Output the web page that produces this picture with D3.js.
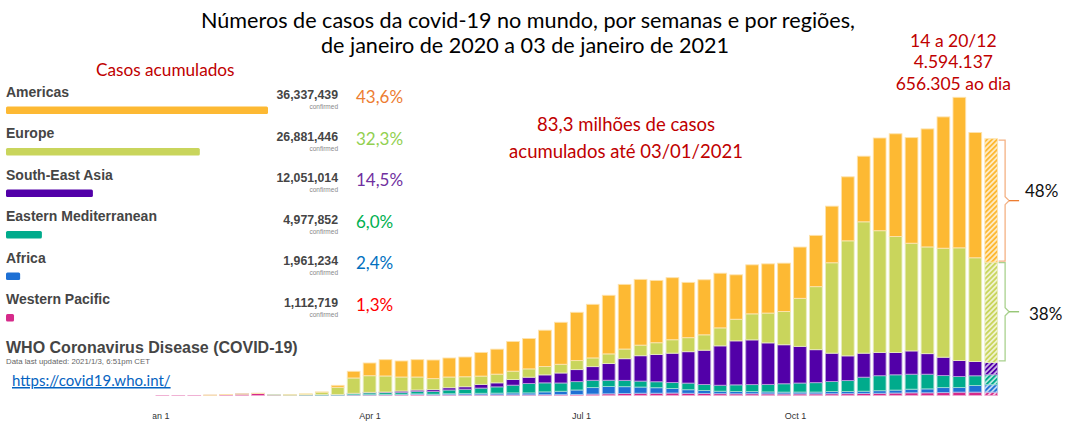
<!DOCTYPE html>
<html><head><meta charset="utf-8">
<script src="https://cdn.jsdelivr.net/npm/d3@7/dist/d3.min.js"></script>
<style>
body{margin:0;background:#fff;}
svg{display:block;}
</style></head>
<body><svg id="c" width="1065" height="430"></svg>
<script>
// ---------- DATA ----------
const weeks = ["2019-12-30","2020-01-06","2020-01-13","2020-01-20","2020-01-27","2020-02-03","2020-02-10","2020-02-17","2020-02-24",
"2020-03-02","2020-03-09","2020-03-16","2020-03-23","2020-03-30","2020-04-06","2020-04-13","2020-04-20","2020-04-27",
"2020-05-04","2020-05-11","2020-05-18","2020-05-25","2020-06-01","2020-06-08","2020-06-15","2020-06-22","2020-06-29",
"2020-07-06","2020-07-13","2020-07-20","2020-07-27","2020-08-03","2020-08-10","2020-08-17","2020-08-24","2020-08-31",
"2020-09-07","2020-09-14","2020-09-21","2020-09-28","2020-10-05","2020-10-12","2020-10-19","2020-10-26","2020-11-02",
"2020-11-09","2020-11-16","2020-11-23","2020-11-30","2020-12-07","2020-12-14","2020-12-21","2020-12-28"];
// weekly new cases, thousands
const westernPacific = [0.1,0.2,1,5,14,23,33,9,6,4,5,6,8,8,9,11,15,8,10,9,10,10,10,10,12,13,15,22,26,30,35,35,38,34,32,28,26,27,25,24,25,25,27,28,30,34,38,42,42,45,52,52,52];
const africa = [0,0,0,0,0,0,0,0,0,0.1,0.2,1,3,5,6,8,10,12,17,20,24,26,30,30,44,52,70,100,112,106,95,85,70,55,45,38,35,33,30,28,28,28,35,33,36,40,45,55,60,77,72,103,114];
const easternMediterranean = [0,0,0,0,0,0,0,0.1,1.5,6,8,9,20,28,29,30,40,42,58,68,80,97,119,145,139,128,129,112,97,97,92,92,92,102,92,92,103,108,116,129,139,145,154,169,216,231,236,231,226,185,169,149,154];
const southEastAsia = [0,0,0,0,0,0.1,0,0,0,0.1,0.1,0.5,3,8,10,20,20,28,35,38,57,62,88,97,123,154,185,211,257,334,391,421,452,484,529,607,678,689,640,601,565,508,436,381,370,359,344,359,317,283,246,220,190];
const europe = [0,0,0,0.1,0.1,0.1,0.1,0.2,1.5,13,38,110,236,256,247,216,200,170,165,154,128,134,128,128,129,134,139,134,149,149,163,180,207,216,237,277,333,401,459,513,740,971,1393,1772,2024,1875,1787,1659,1644,1679,1736,1598,1545];
const americas = [0,0,0,0.1,0.1,0.1,0.1,0,0.1,0.5,3,30,103,196,251,247,267,287,293,304,365,385,458,468,559,647,744,826,903,996,1013,960,956,852,848,842,684,755,758,744,790,790,872,986,1011,1428,1582,1627,1818,2023,2319,1930,1901];

const regions = ["Americas","Europe","South-East Asia","Eastern Mediterranean","Africa","Western Pacific"];
const cumulative = [36337439,26881446,12051014,4977852,1961234,1112719];
const shares = ["43,6%","32,3%","14,5%","6,0%","2,4%","1,3%"];
const tickDates = ["2020-01-01","2020-04-01","2020-07-01","2020-10-01"];
const peakLines = ["14 a 20/12","4.594.137","656.305 ao dia"];
const totalLines = ["83,3 milhões de casos","acumulados até 03/01/2021"];
const lastWeekShares = ["48%","38%"];

// ---------- STYLES ----------
const keys = ["wp","af","em","sea","eu","am"];
const colors = {am:"#FDB933",eu:"#C9D55C",sea:"#5200A8",em:"#00AB8C",af:"#1E70D4",wp:"#D62A8A"};
const regionKeys = ["am","eu","sea","em","af","wp"];
const pctColors = ["#ED7D31","#92D050","#7030A0","#00B050","#0070C0","#FF0000"];
const tint = (c,t)=>d3.interpolateRgb(c,"#ffffff")(t);

const table = weeks.map((w,i)=>({week:w,wp:westernPacific[i],af:africa[i],em:easternMediterranean[i],
  sea:southEastAsia[i],eu:europe[i],am:americas[i]}));
const stacked = d3.stack().keys(keys)(table);
const totals = table.map(r=>keys.reduce((s,k)=>s+r[k],0));

const svg = d3.select("#c");
const defs = svg.append("defs");
keys.forEach(k=>{
  const p = defs.append("pattern").attr("id","h-"+k).attr("patternUnits","userSpaceOnUse")
    .attr("width",3.6).attr("height",3.6).attr("patternTransform","rotate(45)");
  p.append("rect").attr("width",3.6).attr("height",3.6).attr("fill",tint(colors[k],0.7));
  p.append("line").attr("x1",0.9).attr("y1",0).attr("x2",0.9).attr("y2",3.6)
    .attr("stroke",colors[k]).attr("stroke-width",1.8);
});
defs.append("clipPath").attr("id","axclip").append("rect").attr("x",152.5).attr("y",0).attr("width",1000).attr("height",430);

// ---------- SCALES ----------
const x = d3.scaleBand().domain(weeks).range([154.4,999.2]).paddingInner(0.2).paddingOuter(0.1);
const y = d3.scaleLinear().domain([0,d3.max(totals)]).range([395.5,97.3]);
const xt = d3.scaleTime().domain([new Date(2020,0,1),new Date(2020,9,1)]).range([158,795]);
const lastWeek = weeks[weeks.length-1];

// ---------- BARS ----------
const g = svg.append("g");
g.selectAll("g.layer").data(stacked).join("g").attr("class","layer")
  .each(function(layer){
    const k = layer.key;
    d3.select(this).selectAll("rect").data(layer.filter(d=>d[1]-d[0]>0)).join("rect")
      .attr("x",d=>x(d.data.week))
      .attr("width",x.bandwidth())
      .attr("y",d=>y(d[1]))
      .attr("height",d=>Math.max(0,y(d[0])-y(d[1])))
      .attr("fill",d=>d.data.week===lastWeek?`url(#h-${k})`:colors[k])
      .attr("stroke",tint(colors[k],0.6))
      .attr("stroke-width",0.9);
  });

// ---------- AXIS ----------
const ax = svg.append("g").attr("transform","translate(0,411)").attr("clip-path","url(#axclip)")
  .call(d3.axisBottom(xt).tickValues(tickDates.map(s=>d3.timeParse("%Y-%m-%d")(s)))
    .tickFormat(d3.timeFormat("%b %-d")).tickSize(0).tickPadding(2));
ax.select(".domain").remove();
ax.selectAll("text").attr("font-family","Liberation Sans, Arial, sans-serif").attr("font-size",9).attr("fill","#333");

// ---------- LEFT PANEL ----------
const lp = svg.append("g");
const bx = d3.scaleLinear().domain([0,d3.max(cumulative)]).range([0,262]);
const rowY = d3.scalePoint().domain(regions).range([96.8,304.3]);
lp.append("text").attr("x",96).attr("y",76).attr("font-family","Lato, sans-serif").attr("font-size",17.2)
  .attr("fill","#C00000").text("Casos acumulados");
regions.forEach((r,i)=>{
  const by = rowY(r);
  lp.append("text").attr("x",6).attr("y",by).attr("font-family","Liberation Sans, Arial, sans-serif")
    .attr("font-weight","bold").attr("font-size",14).attr("fill","#454545").text(r);
  lp.append("rect").attr("x",6).attr("y",by+9.6).attr("height",7.6).attr("width",bx(cumulative[i]))
    .attr("rx",1.5).attr("fill",colors[regionKeys[i]]);
  lp.append("text").attr("x",338).attr("y",by+2.6).attr("text-anchor","end")
    .attr("font-family","Liberation Sans, Arial, sans-serif").attr("font-weight","bold").attr("font-size",12.3)
    .attr("fill","#454545").text(d3.format(",")(cumulative[i]));
  lp.append("text").attr("x",338).attr("y",by+12.6).attr("text-anchor","end")
    .attr("font-family","Liberation Sans, Arial, sans-serif").attr("font-size",6.5)
    .attr("fill","#888").text("confirmed");
  lp.append("text").attr("x",356).attr("y",by+6.5)
    .attr("font-family","Lato, sans-serif").attr("font-size",17).attr("fill",pctColors[i]).text(shares[i]);
});
lp.append("text").attr("x",6).attr("y",353).attr("font-family","Liberation Sans, Arial, sans-serif")
  .attr("font-weight","bold").attr("font-size",16).attr("fill","#454545").text("WHO Coronavirus Disease (COVID-19)");
lp.append("text").attr("x",6).attr("y",363.5).attr("font-family","Liberation Sans, Arial, sans-serif")
  .attr("font-size",7.8).attr("fill","#666").text("Data last updated: 2021/1/3, 6:51pm CET");
lp.append("text").attr("x",12).attr("y",386).attr("font-family","Lato, sans-serif").attr("font-size",15)
  .attr("fill","#0563C1").attr("text-decoration","underline").text("https://covid19.who.int/");

// ---------- TITLE ----------
const title = ["Números de casos da covid-19 no mundo, por semanas e por regiões,","de janeiro de 2020 a 03 de janeiro de 2021"];
svg.append("text").attr("x",528).attr("y",28).attr("text-anchor","middle").attr("font-family","Lato, sans-serif")
  .attr("font-size",21.6).attr("fill","#000").text(title[0]);
svg.append("text").attr("x",525).attr("y",52.5).attr("text-anchor","middle").attr("font-family","Lato, sans-serif")
  .attr("font-size",21.6).attr("fill","#000").text(title[1]);

// ---------- ANNOTATIONS ----------
const peakIdx = totals.indexOf(d3.max(totals));
const peakX = x(weeks[peakIdx])+x.bandwidth()/2;
peakLines.forEach((t,i)=>{
  svg.append("text").attr("x",peakX-6).attr("y",46.7+i*21.7).attr("text-anchor","middle")
    .attr("font-family","Lato, sans-serif").attr("font-size",17.5).attr("fill","#C00000").text(t);
});
totalLines.forEach((t,i)=>{
  svg.append("text").attr("x",626).attr("y",131+i*26.5).attr("text-anchor","middle")
    .attr("font-family","Lato, sans-serif").attr("font-size",18.5).attr("fill","#C00000").text(t);
});

// brackets on last bar
const lastRow = stacked.map(l=>l[l.length-1]);
const amSeg = lastRow[keys.indexOf("am")], euSeg = lastRow[keys.indexOf("eu")];
function brace(y1,y2,col,tickCol,label,lx,ly){
  const x0 = x(lastWeek)+x.bandwidth()+1, xv = x0+6.5, ym=(y1+y2)/2;
  svg.append("path").attr("d",`M${x0},${y1}H${xv}V${ym-4}L${xv+4},${ym}L${xv},${ym+4}V${y2}H${x0}`)
    .attr("fill","none").attr("stroke",col).attr("stroke-width",1.3);
  svg.append("path").attr("d",`M${xv+4},${ym}H${xv+14}`).attr("stroke",tickCol).attr("stroke-width",1.3);
  svg.append("text").attr("x",lx).attr("y",ym+ly).attr("dy","0.35em").attr("font-family","Lato, sans-serif")
    .attr("font-size",17).attr("fill","#111").text(label);
}
brace(y(amSeg[1])+1.5,y(amSeg[0])-1,"#F4B183","#ED7D31",lastWeekShares[0],1025,-10);
brace(y(euSeg[1])+0.5,y(euSeg[0])-1.5,"#A9D18E","#8CC168",lastWeekShares[1],1029,2.5);
</script></body></html>
